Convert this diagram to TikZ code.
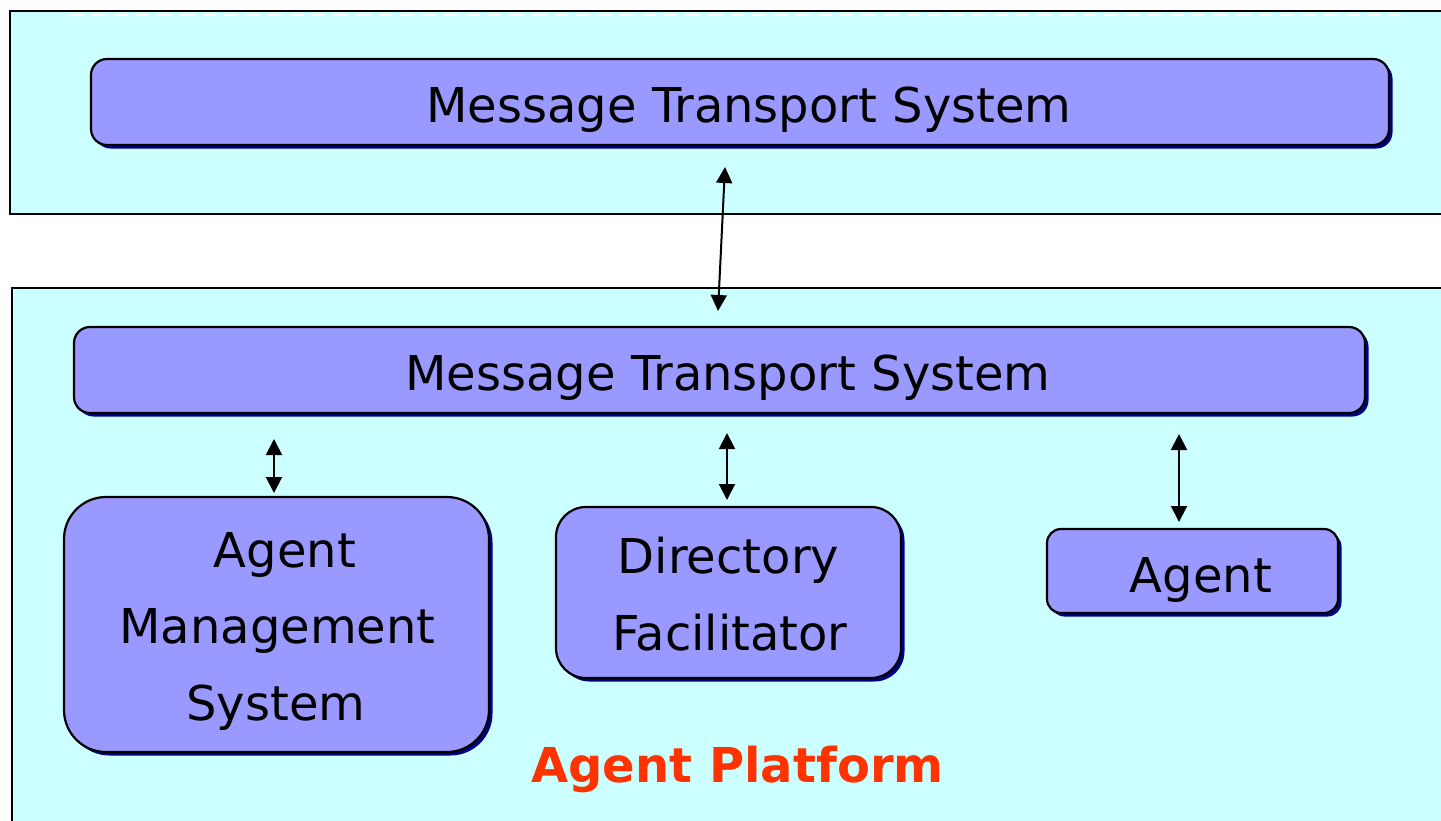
\documentclass[tikz,border=0pt]{standalone}
\usepackage{fontspec}
\setmainfont{DejaVu Sans}
\usetikzlibrary{shadows,arrows.meta,calc}
\definecolor{platbg}{HTML}{CCFFFF}
\definecolor{boxfill}{HTML}{9999FF}
\definecolor{boxshade}{HTML}{000080}
\definecolor{platlabel}{HTML}{FF3300}
\tikzset{
  container/.style={draw=black, line width=2pt, fill=platbg, rectangle,
    inner sep=0pt, outer sep=0pt, anchor=north west},
  unit/.style={draw=black, line width=2.2pt, fill=boxfill, rectangle,
    inner sep=0pt, outer sep=0pt,
    drop shadow={shadow xshift=3.5pt, shadow yshift=-3.5pt, fill=boxshade, opacity=1}},
  caption/.style={font=\fontsize{48}{56}\selectfont, anchor=base, inner sep=0pt},
  biarrow/.style={{Triangle[length=16pt,width=16pt]}-{Triangle[length=16pt,width=16pt]},
    line width=2pt},
}
\begin{document}
\begin{tikzpicture}[x=1pt,y=-1pt]
\useasboundingbox (0,0) rectangle (1441,820);
\clip (0,0) rectangle (1441,820);

% remote platform and local agent platform
\node[container, minimum width=1450pt, minimum height=203pt] (remote) at (10,11) {};
\draw[white, line width=2pt, dash pattern=on 14pt off 8pt] (70,15) -- (1400,15);
\node[container, minimum width=1450pt, minimum height=560pt] (platform) at (12,288) {};

% components
\node[unit, rounded corners=16pt, minimum width=1298pt, minimum height=86pt] (mtsTop) at (740,102) {};
\node[unit, rounded corners=16pt, minimum width=1291pt, minimum height=86pt] (mtsBot) at (719.5,370) {};
\node[unit, rounded corners=42pt, minimum width=425pt, minimum height=255pt] (ams) at (276.5,624.5) {};
\node[unit, rounded corners=30pt, minimum width=345pt, minimum height=171pt] (df) at (728.5,592.5) {};
\node[unit, rounded corners=14pt, minimum width=291pt, minimum height=84pt] (agent) at (1192.5,571) {};

% texts
\node[caption] (tTop) at (749,122) {Message Transport System};
\node[caption] (tBot) at (728,390) {Message Transport System};
\node[caption] (tAms1) at (285,567) {Agent};
\node[caption] (tAms2) at (277.5,643) {Management};
\node[caption] (tAms3) at (276,720) {System};
\node[caption] (tDf1) at (728.5,573) {Directory};
\node[caption] (tDf2) at (730,650) {Facilitator};
\node[caption] (tAgent) at (1201,592) {Agent};
\node[caption, font=\fontsize{48}{56}\selectfont\bfseries, text=platlabel] (tPlat) at (737.5,782) {Agent Platform};

% message links
\draw[biarrow] ($(mtsTop.south)+(-15,22)$) -- ($(mtsBot.north)+(-1.5,-16)$);
\draw[biarrow] ($(mtsBot.south -| ams.north)+(-2.5,26)$) -- ($(ams.north)+(-2.5,-4)$);
\draw[biarrow] ($(mtsBot.south -| df.north)+(-1.5,20)$) -- ($(df.north)+(-1.5,-7)$);
\draw[biarrow] ($(mtsBot.south -| agent.north)+(-13.5,21)$) -- ($(agent.north)+(-13.5,-7)$);
\end{tikzpicture}
\end{document}
